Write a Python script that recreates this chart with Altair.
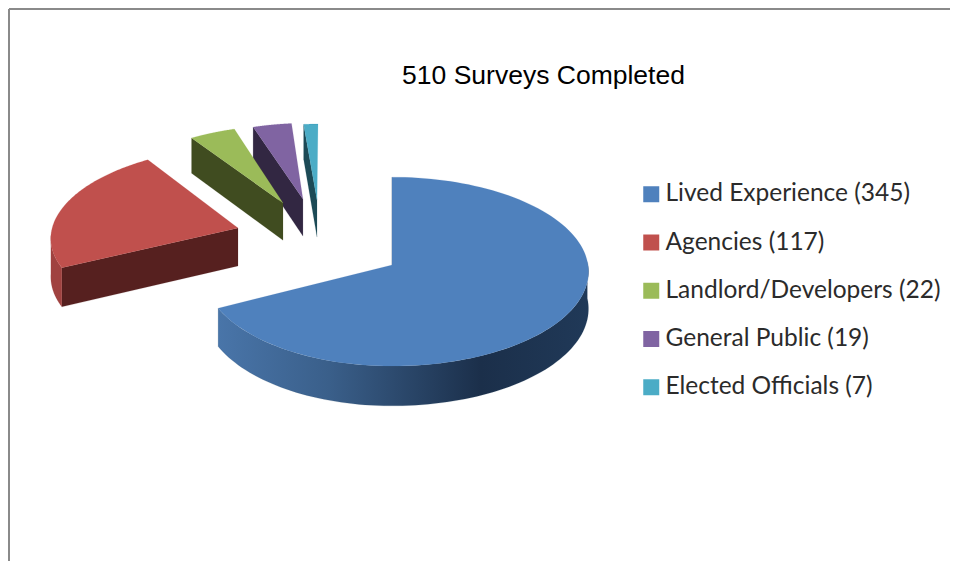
import numpy as np
import pandas as pd
import altair as alt

categories = ["Lived Experience (345)", "Agencies (117)", "Landlord/Developers (22)", "General Public (19)", "Elected Officials (7)"]
values = [345, 117, 22, 19, 7]
top_colors = ["#4f81bd", "#c0504d", "#9bbb59", "#8064a2", "#4bacc6"]
face_colors = ["#16283e", "#56201f", "#404c20", "#322742", "#1c4a56"]
title_text = "510 Surveys Completed"

# picture-space projection of the tilted pie
CX, CY, F, G, K = 392, 265, 196, 94, 0.07
explode = [(0, 0), (-0.808, 0.405), (-0.583, 0.691), (-0.478, 0.738), (-0.402, 0.727)]
radius = [1.0, 0.975, 0.97, 0.95, 0.95]
left_squeeze = [0.96, 1, 1, 1, 1]
depths = [37, 39, 39, 39, 39]
turn = [0, 0, -0.4, -0.8, -1.2]


def project(i, th, r, depth=0.0):
    th = th + np.radians(turn[i])
    wx = explode[i][0] + r * np.sin(th)
    wy = explode[i][1] + r * np.cos(th)
    wx = np.where(wx < 0, wx * left_squeeze[i], wx)
    d = 1 + K * wy
    return CX + F * wx / d, CY - G * wy / d + depth * depths[i] / d


def frame(xs, ys):
    xs, ys = np.ravel(xs), np.ravel(ys)
    return pd.DataFrame({"x": xs, "y": ys, "i": np.arange(len(xs))})


xs = alt.X("x:Q", scale=alt.Scale(domain=[8, 950], nice=False, zero=False), axis=None)
ys = alt.Y("y:Q", scale=alt.Scale(domain=[561, 8], nice=False, zero=False), axis=None)


def poly(df, fill):
    stroke = fill if isinstance(fill, str) else "#2a4768"
    return alt.Chart(df).mark_line(fill=fill, strokeWidth=0.3, stroke=stroke, strokeOpacity=0.5).encode(
        x=xs, y=ys, order=alt.Order("i:Q")
    )


edges = np.radians(np.concatenate([[0], np.cumsum(values)]) * 360 / sum(values))
layers = []

blue_wall = {
    "gradient": "linear", "x1": 0, "x2": 1, "y1": 0, "y2": 0,
    "stops": [
        {"offset": 0.0, "color": "#4975a9"},
        {"offset": 0.3, "color": "#3a5f8a"},
        {"offset": 0.71, "color": "#1b2f4a"},
        {"offset": 1.0, "color": "#203958"},
    ],
}

for i in [4, 3, 2, 1, 0]:
    a, b = edges[i], edges[i + 1]
    r = radius[i]
    # radial face under the slice's first edge
    px0, py0 = project(i, 0.0, 0.0)
    px1, py1 = project(i, a, r)
    px2, py2 = project(i, a, r, 1)
    px3, py3 = project(i, 0.0, 0.0, 1)
    layers.append(poly(frame(np.r_[px0, px1, px2, px3, px0], np.r_[py0, py1, py2, py3, py0]), face_colors[i]))
    # outer wall
    if i == 0:
        t = np.linspace(np.radians(88), b, 90)
        tx, ty = project(i, t, r)
        bx, by = project(i, t, r, 1)
        layers.append(poly(frame(np.r_[tx, bx[::-1]], np.r_[ty, by[::-1]]), blue_wall))
    if i == 1:
        t = np.linspace(a, np.radians(265), 30)
        tx, ty = project(i, t, r)
        bx, by = project(i, t, r, 1)
        layers.append(poly(frame(np.r_[tx, bx[::-1]], np.r_[ty, by[::-1]]), "#a04240"))
    # top surface
    t = np.linspace(a, b, 120)
    ax_, ay_ = project(i, t, r)
    cx_, cy_ = project(i, 0.0, 0.0)
    layers.append(poly(frame(np.r_[cx_, ax_, cx_], np.r_[cy_, ay_, cy_]), top_colors[i]))

frame_df = pd.DataFrame({"x": [9.0], "x2": [950.0], "y": [9.0], "y2": [561.0]})
left_rule = alt.Chart(frame_df).mark_rule(color="#8a8a8a", strokeWidth=2).encode(x=xs, y=ys, y2="y2:Q")
top_rule = alt.Chart(frame_df).mark_rule(color="#8a8a8a", strokeWidth=2).encode(x=xs, x2="x2:Q", y=ys)

title = alt.Chart(pd.DataFrame({"x": [543.5], "y": [76.0], "t": [title_text]})).mark_text(
    font="Liberation Sans", fontSize=26.5, color="#000000", align="center", baseline="middle"
).encode(x=xs, y=ys, text="t:N")

legend_df = pd.DataFrame({"cat": categories, "x": [700.0] * 5, "y": [300.0] * 5})
legend = alt.Chart(legend_df).mark_square(size=0, opacity=0).encode(
    x=xs, y=ys,
    color=alt.Color(
        "cat:N",
        scale=alt.Scale(domain=categories, range=top_colors),
        legend=alt.Legend(
            title=None, orient="none", legendX=631, legendY=174, padding=0,
            symbolType="square", symbolSize=256, symbolOpacity=1, symbolStrokeWidth=0,
            labelFont="Lato", labelFontSize=24.5, labelColor="#2b2b2b", labelOffset=2,
            rowPadding=23.25, labelLimit=320,
        ),
    ),
)

chart = alt.layer(left_rule, top_rule, *layers, title, legend).properties(
    width=942, height=553, padding=0, autosize=alt.AutoSizeParams(type="none")
).configure_view(stroke=None)

chart.save("out.html", embed_options={"renderer": "svg", "actions": False})
